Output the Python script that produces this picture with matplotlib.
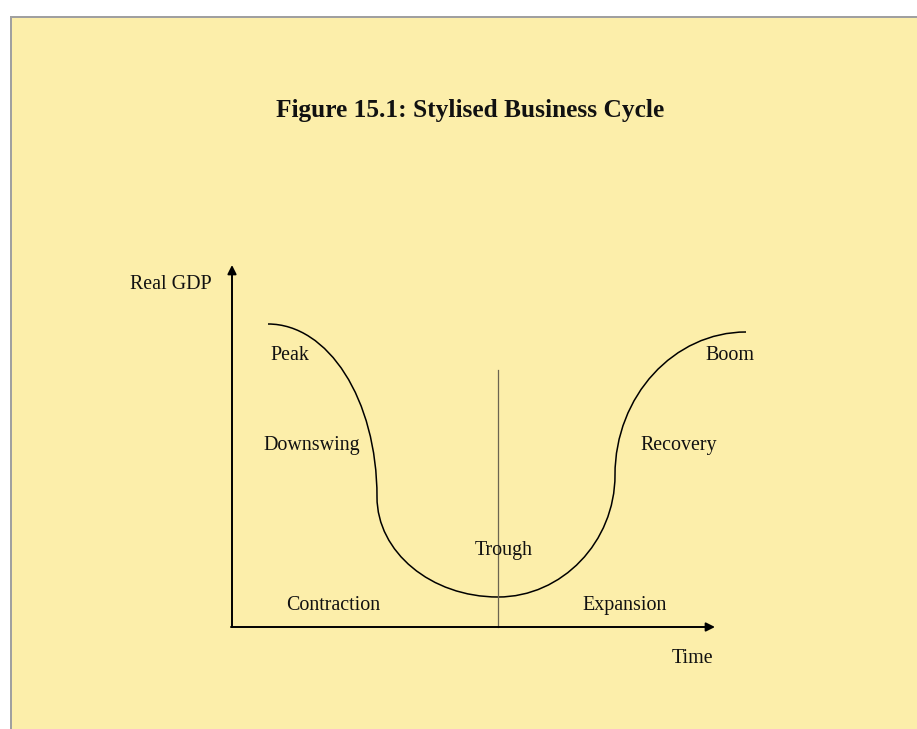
import numpy as np
import matplotlib.pyplot as plt
from matplotlib.path import Path
from matplotlib.patches import PathPatch, Rectangle

# Stylised cycle, in picture units (x = time, y = down from top)
# anchor points of the curve (peak, end of downswing, trough, end of recovery, boom)
anchor_x = [268, 377, 498, 615, 746]
anchor_y = [324, 497, 597, 475, 332]
# bezier handles between anchors, two per segment
handle_x = [[328, 377], [377, 431], [562, 615], [615, 674]]
handle_y = [[324, 399], [552, 597], [597, 542], [396, 332]]

labels = ["Peak", "Downswing", "Trough", "Contraction", "Boom", "Recovery", "Expansion"]
label_x = [270, 263, 475, 286, 705, 640, 582]
label_y = [360, 450, 555, 610, 360, 450, 610]

origin = (232, 627)
y_top = 265
x_end = 715
divider_x = 498
divider_top = 370

bg = '#FCEEAA'

fig = plt.figure(figsize=(9.17, 7.29), dpi=100)
ax = fig.add_axes([0, 0, 1, 1])
ax.set_xlim(0, 917)
ax.set_ylim(729, 0)
ax.axis('off')

# panel and frame
ax.add_patch(Rectangle((10, 16), 920, 720, facecolor='#A0A0A0', edgecolor='none'))
ax.add_patch(Rectangle((12, 18), 920, 720, facecolor=bg, edgecolor='none'))

plt.rcParams['font.family'] = ['Liberation Serif', 'DejaVu Serif']

ax.text(470, 117, "Figure 15.1: Stylised Business Cycle", ha='center', va='baseline',
        fontsize=18.3, fontweight='bold', color='#111111')

# axes with arrows
ax.annotate('', xy=(origin[0], y_top), xytext=origin,
            arrowprops=dict(arrowstyle='-|>', color='black', lw=1.4, mutation_scale=13,
                            shrinkA=0, shrinkB=0))
ax.annotate('', xy=(x_end, origin[1]), xytext=(origin[0] - 1, origin[1]),
            arrowprops=dict(arrowstyle='-|>', color='black', lw=1.4, mutation_scale=13,
                            shrinkA=0, shrinkB=0))

# divider between contraction and expansion
ax.plot([divider_x, divider_x], [divider_top, origin[1]], color='#6b6450', lw=0.9)

# the cycle curve
verts = [(anchor_x[0], anchor_y[0])]
codes = [Path.MOVETO]
for i in range(len(handle_x)):
    verts += [(handle_x[i][0], handle_y[i][0]), (handle_x[i][1], handle_y[i][1]),
              (anchor_x[i + 1], anchor_y[i + 1])]
    codes += [Path.CURVE4] * 3
ax.add_patch(PathPatch(Path(verts, codes), facecolor='none', edgecolor='black', lw=1.1))

for txt, lx, ly in zip(labels, label_x, label_y):
    ax.text(lx, ly, txt, ha='left', va='baseline', fontsize=14.4, color='#111111')

ax.text(130, 289, "Real GDP", ha='left', va='baseline', fontsize=14.4, color='#111111')
ax.text(672, 663, "Time", ha='left', va='baseline', fontsize=14.4, color='#111111')

fig.savefig('out.png', dpi=100, facecolor='white')
